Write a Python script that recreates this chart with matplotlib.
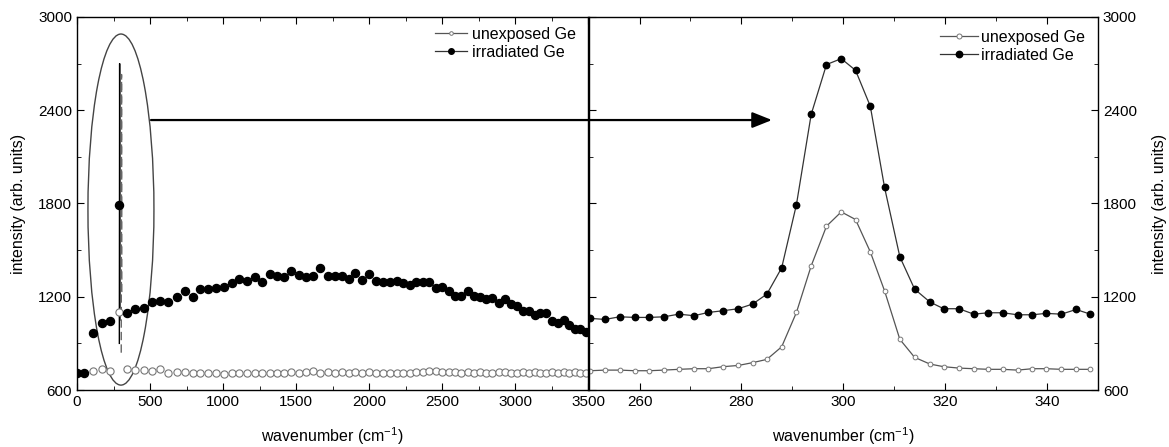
import matplotlib
matplotlib.use("Agg")
import matplotlib.pyplot as plt
from matplotlib.patches import Ellipse, ConnectionPatch
from matplotlib.lines import Line2D
from matplotlib.ticker import MultipleLocator

plt.rcParams['font.family'] = ['Liberation Sans', 'DejaVu Sans']
plt.rcParams['mathtext.fontset'] = 'custom'
plt.rcParams['mathtext.rm'] = 'Liberation Sans'

# full range spectra (left panel)
irr_x = [0, 48, 110, 169, 228, 290, 342, 397, 459, 516,
         571, 625, 683, 737, 792, 845, 900, 954, 1007, 1062,
         1110, 1164, 1217, 1269, 1324, 1372, 1420, 1468, 1520, 1568,
         1619, 1667, 1717, 1765, 1813, 1861, 1906, 1954, 2002, 2050,
         2098, 2144, 2190, 2235, 2281, 2322, 2368, 2413, 2457, 2502,
         2548, 2589, 2632, 2676, 2719, 2760, 2803, 2844, 2888, 2929,
         2970, 3014, 3055, 3094, 3135, 3173, 3212, 3253, 3297, 3333,
         3368, 3409, 3447, 3484]
irr_y = [711, 707, 964, 1033, 1046, 1793, 1093, 1123, 1129, 1166,
         1174, 1166, 1196, 1238, 1200, 1251, 1251, 1256, 1260, 1290,
         1316, 1303, 1324, 1298, 1346, 1335, 1324, 1363, 1341, 1324,
         1333, 1382, 1333, 1333, 1333, 1311, 1350, 1307, 1346, 1303,
         1294, 1294, 1303, 1290, 1273, 1294, 1294, 1294, 1256, 1260,
         1238, 1208, 1204, 1234, 1208, 1196, 1183, 1191, 1157, 1187,
         1153, 1140, 1110, 1106, 1080, 1097, 1093, 1041, 1029, 1050,
         1016, 994, 994, 973]
unexp_x = irr_x[2:]
unexp_y = [724, 733, 724, 1104, 733, 728, 728, 724, 737, 711,
           716, 716, 711, 711, 707, 711, 703, 707, 711, 707,
           711, 707, 711, 711, 707, 716, 711,
           716, 720, 711, 716, 711, 716, 711, 716, 711, 716,
           711, 711, 707, 711, 707, 711, 716, 716, 720, 720,
           716, 716, 716, 711, 716, 711, 716, 711, 711, 716,
           716, 711, 711, 716, 711, 716, 711, 711, 716, 711,
           716, 711, 716, 711, 711]

# compressed high-resolution trace near 300 cm-1 in the left panel
spike_irr_x = [290, 292, 294]
spike_irr_y = [900, 2700, 1050]
spike_unexp_x = [303, 305, 307]
spike_unexp_y = [840, 2630, 1230]

# high resolution spectra (right panel)
hr_x = [250.3, 253.2, 256.1, 259.1, 261.9, 264.8, 267.7, 270.7, 273.5, 276.4,
        279.4, 282.2, 285.0, 287.9, 290.8, 293.7, 296.7, 299.6, 302.4, 305.3,
        308.1, 311.1, 314.0, 317.0, 319.7, 322.7, 325.6, 328.5, 331.3, 334.2,
        337.1, 339.8, 342.8, 345.7, 348.5]
hr_irr = [1061, 1054, 1071, 1067, 1067, 1071, 1088, 1078, 1099, 1110,
          1123, 1153, 1217, 1386, 1793, 2374, 2694, 2732, 2657, 2426,
          1903, 1457, 1249, 1166, 1123, 1123, 1088, 1097, 1097, 1084,
          1084, 1093, 1088, 1118, 1088]
hr_unexp = [724, 728, 728, 724, 724, 728, 733, 737, 737, 750,
            758, 776, 797, 878, 1099, 1399, 1654, 1746, 1697, 1489,
            1238, 926, 810, 767, 750, 741, 737, 733, 733, 728,
            737, 737, 733, 733, 733]

labels = ['unexposed Ge', 'irradiated Ge']

fig = plt.figure(figsize=(11.69, 4.47), dpi=100)
ax1 = fig.add_axes([77 / 1169, 57 / 447, 511 / 1169, 373 / 447])
ax2 = fig.add_axes([588.6 / 1169, 57 / 447, 509.4 / 1169, 373 / 447])

grey = '#777777'

# left panel
ax1.plot(spike_irr_x, spike_irr_y, color='black', lw=1.0)
ax1.plot(spike_unexp_x, spike_unexp_y, color='#666666', lw=1.0, dashes=(6, 3))
ax1.plot(unexp_x, unexp_y, ls='none', marker='o', ms=5.2, mfc='white',
         mec=grey, mew=0.8)
ax1.plot(irr_x, irr_y, ls='none', marker='o', ms=5.8, color='black')

ax1.add_patch(Ellipse((301, 1761), width=452, height=2259, fill=False,
                      edgecolor='#444444', lw=1.0))

ax1.set_xlim(0, 3500)
ax1.set_ylim(600, 3000)
ax1.xaxis.set_major_locator(MultipleLocator(500))
ax1.xaxis.set_minor_locator(MultipleLocator(250))
ax1.yaxis.set_major_locator(MultipleLocator(600))
ax1.yaxis.set_minor_locator(MultipleLocator(300))
ax1.tick_params(which='both', direction='in', top=True, right=False,
                labelsize=11)
ax1.tick_params(which='major', length=5)
ax1.tick_params(which='minor', length=3)
ax1.set_xlabel('wavenumber (cm$^{\\mathregular{-1}}$)', fontsize=11.5,
               labelpad=12)
ax1.set_ylabel('intensity (arb. units)', fontsize=11.5, labelpad=9)

# right panel
ax2.plot(hr_x, hr_unexp, color='#555555', lw=0.9, marker='o', ms=3.4,
         mfc='white', mec=grey, mew=0.7)
ax2.plot(hr_x, hr_irr, color='#333333', lw=0.9, marker='o', ms=4.6,
         mfc='black', mec='black')

ax2.set_xlim(250, 350)
ax2.set_ylim(600, 3000)
ax2.set_xticks([260, 280, 300, 320, 340])
ax2.xaxis.set_minor_locator(MultipleLocator(10))
ax2.yaxis.set_major_locator(MultipleLocator(600))
ax2.yaxis.set_minor_locator(MultipleLocator(300))
ax2.tick_params(which='both', direction='in', top=True, left=True,
                right=True, labelleft=False, labelright=True, labelsize=11)
ax2.tick_params(which='major', length=5)
ax2.tick_params(which='minor', length=3)
ax2.yaxis.set_label_position('right')
ax2.set_xlabel('wavenumber (cm$^{\\mathregular{-1}}$)', fontsize=11.5,
               labelpad=12)
ax2.set_ylabel('intensity (arb. units)', fontsize=11.5, labelpad=11)

for ax in (ax1, ax2):
    for sp in ax.spines.values():
        sp.set_linewidth(1.0)

# legends
h_left = [Line2D([], [], color='#555555', lw=0.9, marker='o', ms=2.6,
                 mfc='white', mec=grey, mew=0.7),
          Line2D([], [], color='#333333', lw=0.9, marker='o', ms=4.0,
                 mfc='black', mec='black')]
h_right = [Line2D([], [], color='#555555', lw=0.9, marker='o', ms=3.6,
                  mfc='white', mec=grey, mew=0.7),
           Line2D([], [], color='#333333', lw=0.9, marker='o', ms=4.6,
                  mfc='black', mec='black')]
ax1.legend(h_left, labels, loc='upper right', frameon=False, fontsize=11.5,
           handlelength=2.0, handletextpad=0.3, labelspacing=0.2,
           borderaxespad=0.2, bbox_to_anchor=(0.995, 1.0))
ax2.legend(h_right, labels, loc='upper right', frameon=False, fontsize=11.5,
           handlelength=2.4, handletextpad=0.2, labelspacing=0.2,
           borderaxespad=0.4, bbox_to_anchor=(1.0, 1.0))

# arrow linking the boxed region to the zoomed panel
arrow = ConnectionPatch(xyA=(507, 2337), coordsA=ax1.transData,
                        xyB=(286, 2337), coordsB=ax2.transData,
                        arrowstyle='-|>,head_length=0.6,head_width=0.24',
                        mutation_scale=20, color='black', lw=1.6)
fig.add_artist(arrow)

fig.savefig('out.png', dpi=100)
